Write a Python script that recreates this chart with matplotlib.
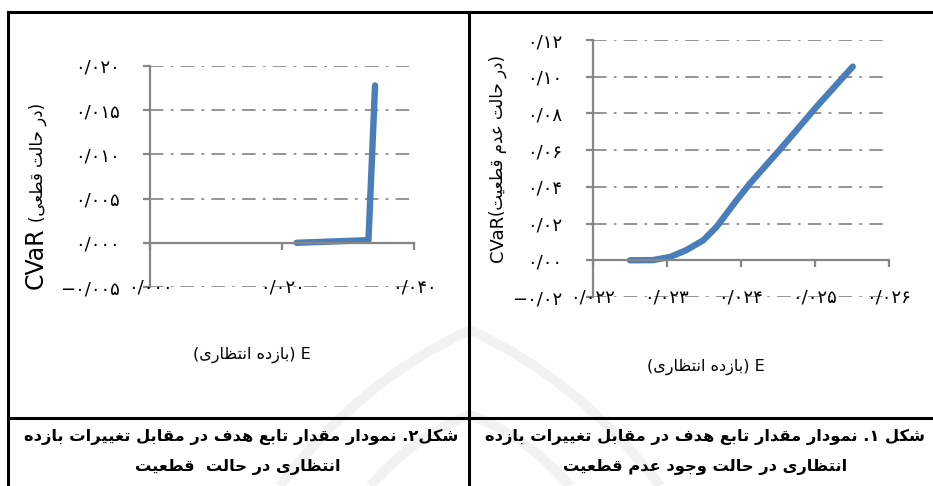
import matplotlib as mpl
mpl.use('Agg')
import matplotlib.pyplot as plt
from matplotlib.lines import Line2D
from matplotlib.path import Path
from matplotlib.patches import PathPatch

W, H = 933, 486

# --- data -----------------------------------------------------------------
# figure 2: certain case
e_certain = [0.0222, 0.0331, 0.0341]
cvar_certain = [0.0000, 0.0003, 0.0178]
xticks_certain = [0.00, 0.02, 0.04]
xlabels_certain = ['۰/۰۰۰', '۰/۰۲۰', '۰/۰۴۰']
yticks_certain = [-0.005, 0.000, 0.005, 0.010, 0.015, 0.020]
ylabels_certain = ['\u2212۰/۰۰۵', '۰/۰۰۰', '۰/۰۰۵', '۰/۰۱۰', '۰/۰۱۵', '۰/۰۲۰']

# figure 1: uncertain case
e_uncertain = [0.02250, 0.02281, 0.02304, 0.02326, 0.02349, 0.02367,
               0.02394, 0.02412, 0.02452, 0.02502, 0.02551]
cvar_uncertain = [0.0000, 0.0001, 0.0018, 0.0055, 0.0109, 0.0182,
                  0.0327, 0.0418, 0.0600, 0.0836, 0.1055]
xticks_uncertain = [0.022, 0.023, 0.024, 0.025, 0.026]
xlabels_uncertain = ['۰/۰۲۲', '۰/۰۲۳', '۰/۰۲۴', '۰/۰۲۵', '۰/۰۲۶']
yticks_uncertain = [-0.02, 0.00, 0.02, 0.04, 0.06, 0.08, 0.10, 0.12]
ylabels_uncertain = ['\u2212۰/۰۲', '۰/۰۰', '۰/۰۲', '۰/۰۴', '۰/۰۶', '۰/۰۸', '۰/۱۰', '۰/۱۲']

xlabel_text = 'E (بازده انتظاری)'
ylabel_certain = '(در حالت قطعی)'
ylabel_uncertain = '(در حالت عدم قطعیت)'
caption1 = ['شکل ۱. نمودار مقدار تابع هدف در مقابل تغییرات بازده',
            'انتظاری در حالت وجود عدم قطعیت']
caption2 = ['شکل۲. نمودار مقدار تابع هدف در مقابل تغییرات بازده',
            'انتظاری در حالت  قطعیت']

# --- minimal arabic shaping + rtl ordering (no arabic_reshaper available) ---
# letter: (isolated, final, initial, medial); None = does not join forward
FORMS = {
    'ا': ('\uFE8D', '\uFE8E', None, None),
    'ب': ('\uFE8F', '\uFE90', '\uFE91', '\uFE92'),
    'ت': ('\uFE95', '\uFE96', '\uFE97', '\uFE98'),
    'ج': ('\uFE9D', '\uFE9E', '\uFE9F', '\uFEA0'),
    'ح': ('\uFEA1', '\uFEA2', '\uFEA3', '\uFEA4'),
    'د': ('\uFEA9', '\uFEAA', None, None),
    'ر': ('\uFEAD', '\uFEAE', None, None),
    'ز': ('\uFEAF', '\uFEB0', None, None),
    'ش': ('\uFEB5', '\uFEB6', '\uFEB7', '\uFEB8'),
    'ط': ('\uFEC1', '\uFEC2', '\uFEC3', '\uFEC4'),
    'ظ': ('\uFEC5', '\uFEC6', '\uFEC7', '\uFEC8'),
    'ع': ('\uFEC9', '\uFECA', '\uFECB', '\uFECC'),
    'غ': ('\uFECD', '\uFECE', '\uFECF', '\uFED0'),
    'ف': ('\uFED1', '\uFED2', '\uFED3', '\uFED4'),
    'ق': ('\uFED5', '\uFED6', '\uFED7', '\uFED8'),
    'ک': ('\uFB8E', '\uFB8F', '\uFB90', '\uFB91'),
    'ل': ('\uFEDD', '\uFEDE', '\uFEDF', '\uFEE0'),
    'م': ('\uFEE1', '\uFEE2', '\uFEE3', '\uFEE4'),
    'ن': ('\uFEE5', '\uFEE6', '\uFEE7', '\uFEE8'),
    'ه': ('\uFEE9', '\uFEEA', '\uFEEB', '\uFEEC'),
    'و': ('\uFEED', '\uFEEE', None, None),
    'ی': ('\uFBFC', '\uFBFD', '\uFBFE', '\uFBFF'),
}
MIRROR = {'(': ')', ')': '('}
LTR = set('0123456789۰۱۲۳۴۵۶۷۸۹/ABCDEFGHIJKLMNOPQRSTUVWXYZabcdefghijklmnopqrstuvwxyz')


def shape(s):
    out = []
    for i, c in enumerate(s):
        if c not in FORMS:
            out.append(c)
            continue
        iso, fin, ini, med = FORMS[c]
        prev = s[i - 1] if i > 0 else ''
        nxt = s[i + 1] if i + 1 < len(s) else ''
        jp = prev in FORMS and FORMS[prev][2] is not None
        jn = nxt in FORMS and ini is not None
        out.append(med if jp and jn else fin if jp else ini if jn else iso)
    return ''.join(out)


def rtl(s):
    # split into runs, keep latin/digit runs left-to-right, reverse the rest
    s = shape(s)
    runs, cur, cur_ltr = [], '', None
    for c in s:
        is_ltr = c in LTR
        if cur and is_ltr != cur_ltr:
            runs.append((cur, cur_ltr))
            cur = ''
        cur += c
        cur_ltr = is_ltr
    if cur:
        runs.append((cur, cur_ltr))
    parts = []
    for text, is_ltr in reversed(runs):
        if is_ltr:
            parts.append(text)
        else:
            parts.append(''.join(MIRROR.get(c, c) for c in reversed(text)))
    return ''.join(parts)


# --- figure -----------------------------------------------------------------
fig = plt.figure(figsize=(W / 100, H / 100), dpi=100)
fig.patch.set_facecolor('white')

GRID = '#8c8c8c'
AXIS = '#868686'
BLUE = '#4a7ebb'
FONT = 'DejaVu Sans'
TICK_FS = 13


def fpt(x, y):
    return (x / W, 1 - y / H)


# faint emblem behind the table
for pts in [[(280, 486), (360, 380), (470, 330), (580, 380), (660, 486)],
            [(370, 486), (415, 435), (470, 415), (525, 435), (570, 486)]]:
    verts = [fpt(*p) for p in pts]
    codes = [Path.MOVETO, Path.CURVE3, Path.CURVE3, Path.CURVE3, Path.CURVE3]
    fig.add_artist(PathPatch(Path(verts, codes), fill=False, ec='#f2f2f2', lw=7,
                             transform=fig.transFigure, zorder=-5))


def px_axes(x0, x1, top, bottom):
    return fig.add_axes([x0 / W, (H - bottom) / H, (x1 - x0) / W, (bottom - top) / H])


def excel_chart(ax, xs, ys, xticks, xlabels, yticks, ylabels):
    ax.set_xlim(xticks[0], xticks[-1])
    ax.set_ylim(yticks[0], yticks[-1])
    for s in ['top', 'right']:
        ax.spines[s].set_visible(False)
    ax.spines['left'].set_color(AXIS)
    ax.spines['left'].set_linewidth(1.6)
    ax.spines['bottom'].set_position(('data', 0))
    ax.spines['bottom'].set_color(AXIS)
    ax.spines['bottom'].set_linewidth(1.6)
    ax.set_xticks(xticks)
    ax.set_yticks(yticks)
    ax.set_yticklabels(ylabels, fontsize=TICK_FS, family=FONT)
    ax.tick_params(axis='y', length=5, width=1.6, color=AXIS, pad=17)
    ax.tick_params(axis='x', length=5, width=1.6, color=AXIS, labelbottom=False)
    for y in yticks:
        if y != 0:
            ax.axhline(y, color=GRID, lw=1.3, ls=(0, (7.5, 4, 1.5, 4)), zorder=0)
    # category labels sit on the lowest gridline, excel style
    for x, lab in zip(xticks, xlabels):
        ax.text(x, yticks[0], lab, ha='center', va='center', fontsize=TICK_FS,
                family=FONT, clip_on=False)
    ax.plot(xs, ys, color=BLUE, lw=4.6, solid_capstyle='round',
            solid_joinstyle='round', clip_on=False)
    ax.patch.set_alpha(0)


ax2 = px_axes(150, 414, 66, 287)
excel_chart(ax2, e_certain, cvar_certain, xticks_certain, xlabels_certain,
            yticks_certain, ylabels_certain)

ax1 = px_axes(593, 889, 40, 297)
excel_chart(ax1, e_uncertain, cvar_uncertain, xticks_uncertain, xlabels_uncertain,
            yticks_uncertain, ylabels_uncertain)


def ftxt(x, y, s, **kw):
    return fig.text(x / W, 1 - y / H, s, **kw)


# y axis titles: latin part larger than the persian part
ftxt(43, 289, 'CVaR', rotation=90, fontsize=17, family=FONT, ha='left', va='baseline',
     rotation_mode='anchor')
ftxt(43, 222, rtl(ylabel_certain), rotation=90, fontsize=12, family=FONT, ha='left',
     va='baseline', rotation_mode='anchor')
ftxt(503, 262, 'CVaR', rotation=90, fontsize=13, family=FONT, ha='left', va='baseline',
     rotation_mode='anchor')
ftxt(503, 216, rtl(ylabel_uncertain), rotation=90, fontsize=12, family=FONT, ha='left',
     va='baseline', rotation_mode='anchor')

# x axis titles
ftxt(252, 355, rtl(xlabel_text), fontsize=11.5, family=FONT, ha='center', va='center')
ftxt(706, 367, rtl(xlabel_text), fontsize=11.5, family=FONT, ha='center', va='center')

# captions
CAP_FS = 11.7
ftxt(458, 437, rtl(caption2[0]), fontsize=CAP_FS, family=FONT, weight='bold', ha='right', va='center')
ftxt(238, 467, rtl(caption2[1]), fontsize=CAP_FS, family=FONT, weight='bold', ha='center', va='center')
ftxt(925, 437, rtl(caption1[0]), fontsize=CAP_FS, family=FONT, weight='bold', ha='right', va='center')
ftxt(705, 467, rtl(caption1[1]), fontsize=CAP_FS, family=FONT, weight='bold', ha='center', va='center')

# table borders
for xs, ys in [([8, W], [12, 12]), ([8, W], [418, 418]), ([8, 8], [12, H]), ([469, 469], [12, H])]:
    fig.add_artist(Line2D([x / W for x in xs], [1 - y / H for y in ys], color='black', lw=2.2))

fig.savefig('out.png', dpi=100)
